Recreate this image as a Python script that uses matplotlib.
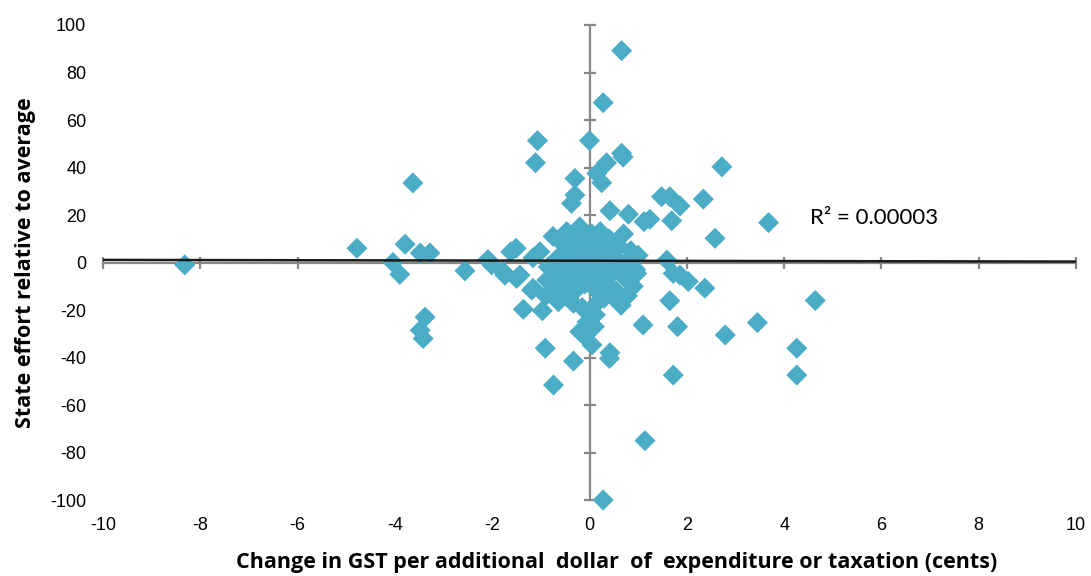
import numpy as np
import matplotlib.pyplot as plt

plt.rcParams['axes.unicode_minus'] = False

# GST change (cents per dollar) vs state effort relative to average
gst_change = [
    -8.32, -4.78, -3.63, -3.79, -4.04, -3.90, -3.48, -3.28, -3.38, -3.48, -3.42,
    -2.56, -2.09, -2.01, -1.77, -1.74, -1.51, -1.62, -1.43, -1.50, -1.19, -1.16,
    -1.36, -0.97, -0.91, -0.74, -0.33, -1.16, -1.02, -0.85, -0.88, -0.64, -0.47,
    -0.33, -0.60, -0.60, -0.54, -0.60, -0.54, -0.47, -0.20,
    0.66, 0.28, -1.07, -1.11, 0.00, 0.66, 0.69, 0.35, 0.15, 0.25, -0.30, -0.30,
    -0.37, 2.72, 1.48, 1.65, 1.86, 2.34, 3.68, 2.58, 0.42, 0.80, 1.12, 1.24,
    1.69, 1.59, 2.37,
    1.86, 2.03, 1.65, 1.10, 1.81, 2.79, 3.45, 4.26, 4.26, 4.64, 1.72, 1.14,
    0.28, 0.41, 0.05, -0.20, 0.01, 0.63, 0.48, 0.97, 1.72, 0.42, -0.10, 0.10,
    -0.80, -0.70, -0.65, -0.50, -0.45, -0.40, -0.35, -0.30, -0.28, -0.25, -0.20,
    -0.15, -0.12, -0.10, -0.08, -0.05, 0.00, 0.02, 0.05, 0.08, 0.10, 0.12, 0.15,
    0.18, 0.20, 0.22, 0.25, 0.30, 0.32, 0.35, 0.40, 0.45, 0.50, 0.55, 0.60,
    0.62, 0.70, 0.75, 0.80, 0.85, 0.90, 0.95, 1.00, -0.90, -0.75, 0.30, 0.65,
    0.78, -0.15, 0.12, -0.05, 0.20,
]
state_effort = [
    -1.0, 6.0, 33.5, 7.7, 0.0, -5.0, 4.0, 4.0, -23.0, -28.5, -32.0,
    -3.5, 1.2, -1.0, -3.9, -5.3, 6.0, 4.5, -5.3, -6.7, -11.6, -10.9,
    -19.7, -20.3, -36.1, -51.6, -41.5, 2.0, 4.5, -1.8, -7.4, -16.5, -14.4,
    -17.2, -10.2, -0.3, 3.2, 8.8, 10.9, 13.0, 15.0,
    89.2, 67.3, 51.3, 42.0, 51.3, 46.0, 44.4, 42.0, 37.5, 33.6, 35.4, 28.4,
    24.9, 40.3, 27.7, 27.7, 23.8, 26.7, 16.8, 10.2, 21.8, 20.3, 17.2, 18.2,
    17.6, 1.0, -10.8,
    -5.3, -8.0, -16.1, -26.3, -27.0, -30.5, -25.3, -36.1, -47.4, -16.0, -47.4, -75.0,
    -100.0, -40.4, -34.7, -29.1, -20.0, -15.8, -14.4, -4.6, -4.6, -38.0, -31.0, -27.0,
    -12.0, -5.0, 2.0, -8.0, 5.0, -3.0, 9.0, -12.0, 0.0, 6.0, -6.0,
    3.0, 11.0, -9.0, -2.0, 7.0, 0.0, -4.0, 12.0, 4.0, -11.0, -1.0, 8.0,
    -6.0, 2.0, 13.0, -3.0, 6.0, -9.0, 0.0, 10.0, -5.0, 3.0, -12.0, 7.0,
    -2.0, 12.0, -7.0, 1.0, 5.0, -10.0, -3.0, 3.0, -14.0, 11.0, -15.0, -18.0,
    -14.0, -19.0, -22.0, -25.0, -16.0,
]

# linear trend (intercept, slope) and its fit statistic
trend_b = 0.75
trend_m = -0.035
r2_text = 'R² = 0.00003'

x_ticks = np.arange(-10, 11, 2)
y_ticks = np.arange(-100, 101, 20)

pt_color = '#4BACC6'
ax_color = '#878787'

fig = plt.figure(figsize=(10.91, 5.76), dpi=100)
pos = [0.0944, 0.1319, 0.8919, 0.8247]

ax = fig.add_axes(pos)
ax.set_xlim(-10, 10)
ax.set_ylim(-100, 100)
for s in ['top', 'right']:
    ax.spines[s].set_visible(False)
ax.spines['left'].set_position(('data', 0))
ax.spines['bottom'].set_position(('data', 0))
for s in ['left', 'bottom']:
    ax.spines[s].set_color(ax_color)
    ax.spines[s].set_linewidth(1.6)
ax.set_xticks(x_ticks)
ax.set_yticks(y_ticks)
ax.tick_params(axis='both', direction='inout', length=9, width=1.6,
               color=ax_color, labelbottom=False, labelleft=False)

ax.scatter(gst_change, state_effort, marker='D', s=115, color=pt_color,
           edgecolors='none', zorder=3, clip_on=False)

xs = np.array([-10, 10])
ax.plot(xs, trend_b + trend_m * xs, color='#1a1a1a', linewidth=1.8, zorder=4)

ax.text(4.53, 18.7, r2_text, fontsize=16, family='Lato', va='center', ha='left')

# labels along the outer edges
lab = fig.add_axes(pos, frameon=False)
lab.set_xlim(-10, 10)
lab.set_ylim(-100, 100)
lab.set_xticks(x_ticks)
lab.set_yticks(y_ticks)
lab.tick_params(axis='both', length=0, labelsize=13, pad=12)
for t in lab.get_xticklabels() + lab.get_yticklabels():
    t.set_family('Liberation Sans')
lab.patch.set_visible(False)

lab.set_xlabel('Change in GST per additional  dollar  of  expenditure or taxation (cents)',
               fontsize=15.5, fontweight='bold', family='Open Sans')
lab.xaxis.set_label_coords(0.528, -0.11)
lab.set_ylabel('State effort relative to average', fontsize=15.5,
               fontweight='bold', family='Open Sans', labelpad=10)

plt.savefig('out.png', dpi=100)
plt.close()
